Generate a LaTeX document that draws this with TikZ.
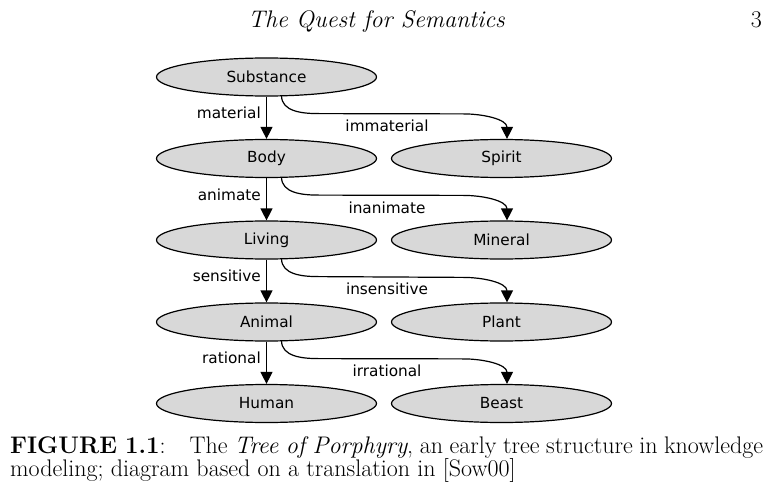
\documentclass[tikz,border=0pt]{standalone}
\usepackage{fontspec}
\setsansfont{DejaVu Sans}
\usetikzlibrary{shapes.geometric,arrows.meta,calc}
\definecolor{nodefill}{RGB}{216,216,216}
\begin{document}
\begin{tikzpicture}[x=1pt,y=-1pt,
  ell/.style={ellipse,draw=black,line width=1.2pt,fill=nodefill,minimum width=220pt,minimum height=38pt,inner sep=0pt,font=\sffamily\fontsize{15.3}{18}\selectfont},
  lab/.style={inner sep=0pt,font=\sffamily\fontsize{15.3}{18}\selectfont},
  arr/.style={line width=1.2pt,-{Triangle[width=12pt,length=12pt]}},
  capfont/.style={inner sep=0pt,font=\fontsize{24}{26}\selectfont}
]
\useasboundingbox (0,0) rectangle (773,489);

% header
\node[capfont,anchor=base] (hdr) at (376.5,28) {\itshape The Quest for Semantics};
\node[capfont,anchor=base east] (pg) at (762,28) {3};

% left column
\node[ell] (s) at (266.5,77) {Substance};
\node[ell] (b) at (266.5,158.5) {Body};
\node[ell] (l) at (266.5,240) {Living};
\node[ell] (a) at (266.5,322) {Animal};
\node[ell] (h) at (266.5,403.5) {Human};
% right column
\node[ell] (sp) at (501.5,158.5) {Spirit};
\node[ell] (m) at (501.5,240) {Mineral};
\node[ell] (p) at (501.5,322) {Plant};
\node[ell] (be) at (501.5,403.5) {Beast};

% vertical arrows
\draw[arr] (s.south) -- (b.north);
\draw[arr] (b.south) -- (l.north);
\draw[arr] (l.south) -- (a.north);
\draw[arr] (a.south) -- (h.north);

% curved arrows
\foreach \u/\v in {s/sp,b/m,l/p,a/be}{
  \draw[arr] ($(\u.south)+(15,-1)$) to[out=-90,in=180] ($(\u.south)+(52,17)$)
     -- ($(\v.north)+(-38,-25)$) to[out=0,in=90] ($(\v.north)+(5.5,0)$);
}

% labels
\node[lab,anchor=east] (lm) at (261,113) {material};
\node[lab,anchor=east] (la) at (261,194.5) {animate};
\node[lab,anchor=east] (ls) at (261,276) {sensitive};
\node[lab,anchor=east] (lr) at (261,358) {rational};
\node[lab] (rim) at (387,126) {immaterial};
\node[lab] (rin) at (387,207.5) {inanimate};
\node[lab] (ris) at (387,289) {insensitive};
\node[lab] (rir) at (387,371) {irrational};

% caption
\node[capfont,anchor=base west] (c1) at (10,453) {\makebox[753pt][s]{\textbf{FIGURE 1.1}:\quad The \textit{Tree of Porphyry}, an early tree structure in knowledge}};
\node[capfont,anchor=base west] (c2) at (10,476) {modeling; diagram based on a translation in [Sow00]};
\end{tikzpicture}
\end{document}
